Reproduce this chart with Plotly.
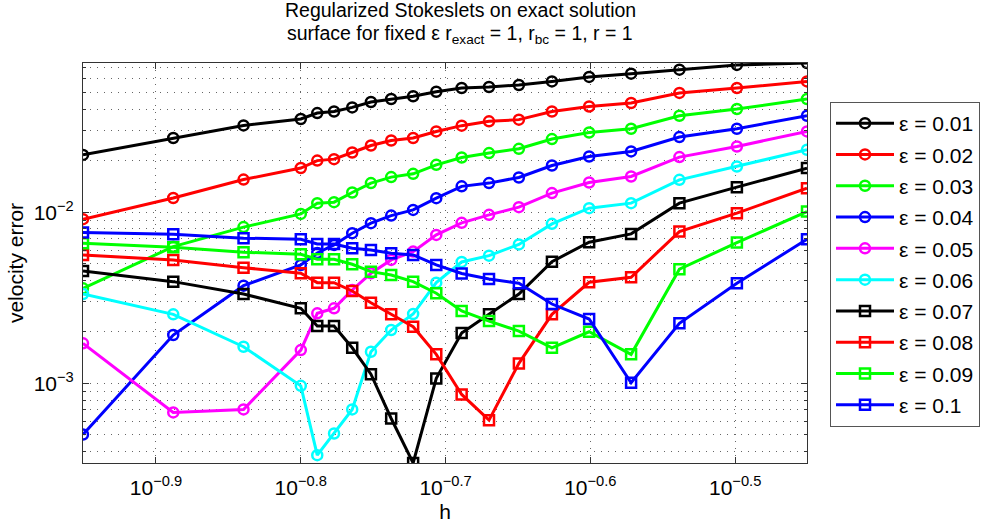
import math
import plotly.graph_objects as go

h = [0.1121, 0.1294, 0.1447, 0.1585, 0.1627, 0.1671, 0.1720, 0.1772, 0.1830, 0.1895,
     0.1966, 0.2047, 0.2138, 0.2242, 0.2363, 0.2507, 0.2680, 0.2894, 0.3171, 0.3545]

err_001 = [0.0216, 0.0271, 0.0321, 0.0350, 0.0379, 0.0387, 0.0409, 0.0440, 0.0458, 0.0475,
           0.0505, 0.0531, 0.0538, 0.0553, 0.0580, 0.0616, 0.0644, 0.0679, 0.0724, 0.0743]
err_002 = [0.0091, 0.0121, 0.0155, 0.0181, 0.0200, 0.0204, 0.0223, 0.0245, 0.0262, 0.0271,
           0.0296, 0.0320, 0.0339, 0.0347, 0.0387, 0.0414, 0.0434, 0.0497, 0.0531, 0.0580]
err_003 = [0.00359, 0.00629, 0.00818, 0.00977, 0.01129, 0.01144, 0.01302, 0.01478, 0.01602, 0.01675,
           0.01890, 0.02086, 0.02213, 0.02344, 0.02672, 0.02920, 0.03069, 0.03657, 0.04002, 0.04579]
err_004 = [0.000503, 0.001917, 0.003723, 0.004917, 0.005781, 0.006437, 0.007538, 0.008625, 0.009552, 0.01031,
           0.01207, 0.01415, 0.01478, 0.01594, 0.01873, 0.02114, 0.02262, 0.02745, 0.03069, 0.03657]
err_005 = [0.001714, 0.000677, 0.000705, 0.001566, 0.002567, 0.002745, 0.003512, 0.004398, 0.005261, 0.005883,
           0.007368, 0.008660, 0.009643, 0.01070, 0.01292, 0.01490, 0.01615, 0.02097, 0.02419, 0.02960]
err_006 = [0.003328, 0.002532, 0.001637, 0.000968, 0.000381, 0.000510, 0.000705, 0.001530, 0.002050, 0.002542,
           0.003876, 0.005121, 0.005574, 0.006481, 0.008544, 0.01055, 0.01129, 0.01545, 0.01848, 0.02313]
err_007 = [0.004536, 0.003929, 0.003328, 0.002745, 0.002163, 0.002163, 0.001615, 0.001133, 0.000624, 0.000343,
           0.001070, 0.001969, 0.002532, 0.003328, 0.005141, 0.006677, 0.007467, 0.01129, 0.01400, 0.01808]
err_008 = [0.005627, 0.005261, 0.004742, 0.004398, 0.003876, 0.003876, 0.003465, 0.002960, 0.002532, 0.002143,
           0.001478, 0.000862, 0.000610, 0.001309, 0.002532, 0.003897, 0.004168, 0.007701, 0.009867, 0.01381]
err_009 = [0.006587, 0.006242, 0.005835, 0.005680, 0.005311, 0.005311, 0.004964, 0.004494, 0.004298, 0.003929,
           0.003360, 0.002647, 0.002313, 0.002022, 0.001615, 0.002003, 0.001478, 0.004642, 0.006640, 0.01008]
err_010 = [0.007599, 0.007435, 0.007047, 0.006952, 0.006525, 0.006525, 0.006159, 0.006019, 0.005756, 0.005627,
           0.004917, 0.004386, 0.004073, 0.003845, 0.002908, 0.002377, 0.001008, 0.002243, 0.003845, 0.006952]

series_names = ["ε = 0.01", "ε = 0.02", "ε = 0.03", "ε = 0.04", "ε = 0.05",
                "ε = 0.06", "ε = 0.07", "ε = 0.08", "ε = 0.09", "ε = 0.1"]
series_values = [err_001, err_002, err_003, err_004, err_005,
                 err_006, err_007, err_008, err_009, err_010]
colors = ["#000000", "#FF0000", "#00FF00", "#0000FF", "#FF00FF",
          "#00FFFF", "#000000", "#FF0000", "#00FF00", "#0000FF"]
symbols = ["circle-open"] * 6 + ["square-open"] * 4

x_tick_exps = [-0.9, -0.8, -0.7, -0.6, -0.5]
x_tick_text = ["10<sup>−0.9</sup>", "10<sup>−0.8</sup>", "10<sup>−0.7</sup>",
               "10<sup>−0.6</sup>", "10<sup>−0.5</sup>"]
y_tick_exps = [-3, -2]
y_tick_text = ["10<sup>−3</sup>", "10<sup>−2</sup>"]

title_line1 = "Regularized Stokeslets on exact solution"
title_line2 = "surface for fixed ε r<sub>exact</sub> = 1, r<sub>bc</sub> = 1, r = 1"

FONT = "Liberation Sans, Arial, sans-serif"
GRID = "#666666"
GRIDDASH = "1px,6px"
AX = "#333333"

fig = go.Figure()
for i, (name, vals) in enumerate(zip(series_names, series_values)):
    fig.add_trace(go.Scatter(
        x=h, y=vals, name=name, mode="lines+markers",
        line=dict(color=colors[i], width=3),
        marker=dict(symbol=symbols[i], size=10, color=colors[i],
                    line=dict(color=colors[i], width=2.5)),
        legendgroup=str(i),
    ))

all_y = [v for s in series_values for v in s]
ymin, ymax = min(all_y), max(all_y)
xmin, xmax = min(h), max(h)

minor_y = []
for e in (-4, -3, -2):
    for k in range(2, 10):
        v = k * 10 ** e
        if ymin <= v <= ymax:
            minor_y.append(v)

fig.update_xaxes(
    type="log", range=[math.log10(xmin), math.log10(xmax)], automargin=False,
    tickvals=[10 ** e for e in x_tick_exps], ticktext=x_tick_text,
    ticks="inside", ticklen=6, tickcolor=AX, ticklabelstandoff=6,
    showline=True, linecolor=AX, linewidth=1, mirror="allticks",
    showgrid=True, gridcolor=GRID, griddash=GRIDDASH, gridwidth=1,
    zeroline=False,
    tickfont=dict(family=FONT, size=21, color="#000000"),
    title=dict(text="h", font=dict(family=FONT, size=21, color="#000000"), standoff=6),
)
fig.update_yaxes(
    type="log", range=[math.log10(ymin), math.log10(ymax)], automargin=False,
    tickvals=[10 ** e for e in y_tick_exps], ticktext=y_tick_text,
    ticks="inside", ticklen=6, tickcolor=AX, ticklabelstandoff=4,
    showline=True, linecolor=AX, linewidth=1, mirror="allticks",
    showgrid=True, gridcolor=GRID, griddash=GRIDDASH, gridwidth=1,
    minor=dict(tickvals=minor_y, ticks="inside", ticklen=3, tickcolor=AX,
               showgrid=True, gridcolor=GRID, griddash=GRIDDASH, gridwidth=1),
    zeroline=False,
    tickfont=dict(family=FONT, size=21, color="#000000"),
    title=dict(text="velocity error", font=dict(family=FONT, size=21, color="#000000"), standoff=4),
)

title_x = (460 - 83) / 724
fig.add_annotation(text=title_line1, xref="paper", yref="paper",
                   x=title_x, y=(463 + 2) / 400, xanchor="center", yanchor="top",
                   showarrow=False, borderpad=0,
                   font=dict(family=FONT, size=19.5, color="#000000"))
fig.add_annotation(text=title_line2, xref="paper", yref="paper",
                   x=title_x, y=(463 - 21) / 400, xanchor="center", yanchor="top",
                   showarrow=False, borderpad=0,
                   font=dict(family=FONT, size=19.5, color="#000000"))

fig.update_layout(
    width=983, height=523,
    margin=dict(l=83, r=176, t=63, b=60, autoexpand=False),
    paper_bgcolor="white", plot_bgcolor="white",
    legend=dict(
        x=(830 - 83) / 724, xanchor="left", y=(463 - 102) / 400, yanchor="top",
        bordercolor="#555555", borderwidth=1, bgcolor="white",
        font=dict(family=FONT, size=21, color="#000000"),
        tracegroupgap=1, itemwidth=58, entrywidth=84,
    ),
    showlegend=True,
)

fig.write_html("out.html")
